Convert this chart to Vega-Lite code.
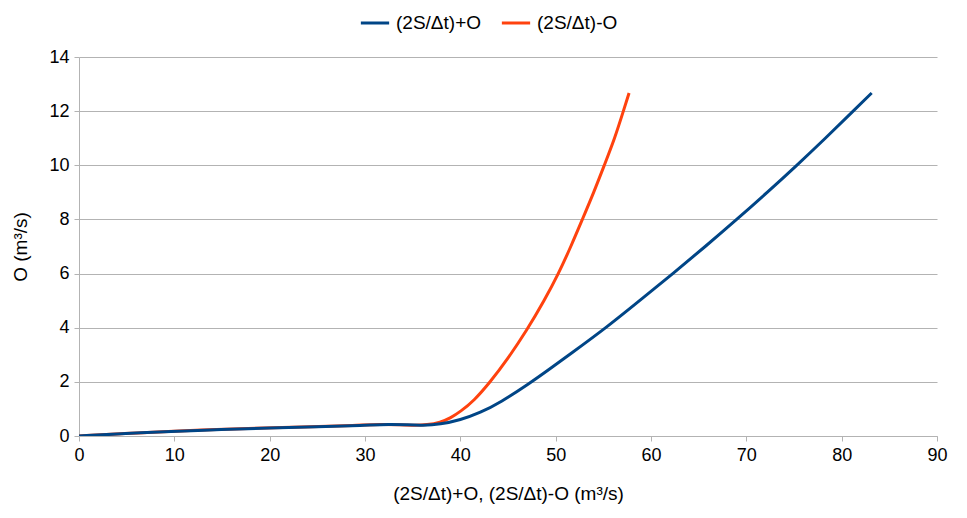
{
  "$schema": "https://vega.github.io/schema/vega-lite/v6.json",
  "autosize": {"type": "none"},
  "width": 858,
  "height": 379,
  "padding": {"left": 79, "top": 57, "right": 30, "bottom": 82},
  "background": "white",
  "config": {
    "font": "Liberation Sans",
    "view": {"stroke": null}
  },
  "data": {
    "values": [
      {"s": "(2S/Δt)+O", "x": 0, "o": 0},
      {"s": "(2S/Δt)+O", "x": 5, "o": 0.09},
      {"s": "(2S/Δt)+O", "x": 9.5, "o": 0.17},
      {"s": "(2S/Δt)+O", "x": 15, "o": 0.24},
      {"s": "(2S/Δt)+O", "x": 20, "o": 0.3},
      {"s": "(2S/Δt)+O", "x": 25, "o": 0.34},
      {"s": "(2S/Δt)+O", "x": 29.8, "o": 0.39},
      {"s": "(2S/Δt)+O", "x": 32.6, "o": 0.44},
      {"s": "(2S/Δt)+O", "x": 34.5, "o": 0.41},
      {"s": "(2S/Δt)+O", "x": 36, "o": 0.39},
      {"s": "(2S/Δt)+O", "x": 37.9, "o": 0.43},
      {"s": "(2S/Δt)+O", "x": 40, "o": 0.59},
      {"s": "(2S/Δt)+O", "x": 42.1, "o": 0.86},
      {"s": "(2S/Δt)+O", "x": 44.2, "o": 1.24},
      {"s": "(2S/Δt)+O", "x": 47.3, "o": 1.95},
      {"s": "(2S/Δt)+O", "x": 49.4, "o": 2.48},
      {"s": "(2S/Δt)+O", "x": 51.5, "o": 3.02},
      {"s": "(2S/Δt)+O", "x": 55.3, "o": 4},
      {"s": "(2S/Δt)+O", "x": 58.8, "o": 5},
      {"s": "(2S/Δt)+O", "x": 62.3, "o": 6},
      {"s": "(2S/Δt)+O", "x": 65.7, "o": 7},
      {"s": "(2S/Δt)+O", "x": 69, "o": 8},
      {"s": "(2S/Δt)+O", "x": 72.2, "o": 9},
      {"s": "(2S/Δt)+O", "x": 75.3, "o": 10},
      {"s": "(2S/Δt)+O", "x": 78.3, "o": 11},
      {"s": "(2S/Δt)+O", "x": 81.2, "o": 12},
      {"s": "(2S/Δt)+O", "x": 83.15, "o": 12.67},
      {"s": "(2S/Δt)-O", "x": 0, "o": 0},
      {"s": "(2S/Δt)-O", "x": 4.8, "o": 0.09},
      {"s": "(2S/Δt)-O", "x": 9.2, "o": 0.17},
      {"s": "(2S/Δt)-O", "x": 14.5, "o": 0.24},
      {"s": "(2S/Δt)-O", "x": 19.4, "o": 0.3},
      {"s": "(2S/Δt)-O", "x": 24.3, "o": 0.34},
      {"s": "(2S/Δt)-O", "x": 29.0, "o": 0.39},
      {"s": "(2S/Δt)-O", "x": 31.7, "o": 0.44},
      {"s": "(2S/Δt)-O", "x": 33.7, "o": 0.41},
      {"s": "(2S/Δt)-O", "x": 35.2, "o": 0.39},
      {"s": "(2S/Δt)-O", "x": 36.5, "o": 0.41},
      {"s": "(2S/Δt)-O", "x": 37.9, "o": 0.5},
      {"s": "(2S/Δt)-O", "x": 39, "o": 0.67},
      {"s": "(2S/Δt)-O", "x": 40, "o": 0.9},
      {"s": "(2S/Δt)-O", "x": 41.4, "o": 1.29},
      {"s": "(2S/Δt)-O", "x": 43.1, "o": 1.98},
      {"s": "(2S/Δt)-O", "x": 44.9, "o": 2.81},
      {"s": "(2S/Δt)-O", "x": 47.0, "o": 3.92},
      {"s": "(2S/Δt)-O", "x": 48.8, "o": 5},
      {"s": "(2S/Δt)-O", "x": 50.3, "o": 6},
      {"s": "(2S/Δt)-O", "x": 51.6, "o": 7},
      {"s": "(2S/Δt)-O", "x": 52.8, "o": 8},
      {"s": "(2S/Δt)-O", "x": 54, "o": 9},
      {"s": "(2S/Δt)-O", "x": 55.1, "o": 10},
      {"s": "(2S/Δt)-O", "x": 56.2, "o": 11},
      {"s": "(2S/Δt)-O", "x": 57.1, "o": 12},
      {"s": "(2S/Δt)-O", "x": 57.7, "o": 12.67}
    ]
  },
  "encoding": {
    "x": {
      "field": "x", "type": "quantitative",
      "scale": {"domain": [0, 90], "nice": false, "zero": false},
      "axis": {
        "values": [0, 10, 20, 30, 40, 50, 60, 70, 80, 90],
        "title": "(2S/Δt)+O, (2S/Δt)-O (m³/s)",
        "titleFont": "Liberation Sans", "titleFontSize": 19, "titleFontWeight": "normal", "titleColor": "#000000",
        "titlePadding": 20,
        "labelFont": "Liberation Sans", "labelFontSize": 18, "labelColor": "#000000",
        "labelFlush": false, "labelOverlap": false,
        "labelPadding": 5, "tickSize": 5, "tickColor": "#b3b3b3",
        "domainColor": "#b3b3b3", "grid": false
      }
    },
    "y": {
      "field": "o", "type": "quantitative",
      "scale": {"domain": [0, 14], "nice": false},
      "axis": {
        "values": [0, 2, 4, 6, 8, 10, 12, 14],
        "title": "O (m³/s)",
        "titleFont": "Liberation Sans", "titleFontSize": 19, "titleFontWeight": "normal", "titleColor": "#000000",
        "titlePadding": 18,
        "labelFont": "Liberation Sans", "labelFontSize": 18, "labelColor": "#000000",
        "labelFlush": false, "labelOverlap": false,
        "labelPadding": 5, "tickSize": 5, "tickColor": "#b3b3b3",
        "domainColor": "#b3b3b3", "grid": true, "gridColor": "#b3b3b3", "gridWidth": 1
      }
    },
    "color": {
      "field": "s", "type": "nominal",
      "scale": {"domain": ["(2S/Δt)+O", "(2S/Δt)-O"], "range": ["#004586", "#ff420e"]},
      "legend": {
        "title": null,
        "orient": "none",
        "legendX": 280,
        "legendY": -50,
        "direction": "horizontal",
        "symbolType": "stroke",
        "symbolStrokeWidth": 3,
        "symbolSize": 800,
        "labelFont": "Liberation Sans",
        "labelFontSize": 19,
        "labelColor": "#000000",
        "columnPadding": 13,
        "labelOffset": 5
      }
    }
  },
  "layer": [
    {
      "transform": [{"filter": "datum.s === '(2S/Δt)-O'"}],
      "mark": {"type": "line", "strokeWidth": 3, "interpolate": "basis", "clip": true}
    },
    {
      "transform": [{"filter": "datum.s === '(2S/Δt)+O'"}],
      "mark": {"type": "line", "strokeWidth": 3, "interpolate": "basis", "clip": true}
    }
  ]
}
